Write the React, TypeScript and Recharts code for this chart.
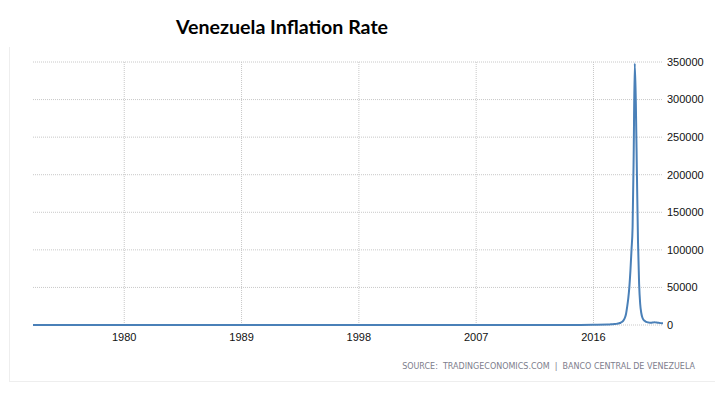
import React from 'react';
import { LineChart, Line, XAxis, YAxis, CartesianGrid, ReferenceLine } from 'recharts';

// Annual inflation rate (%), 1973-2016
const histYears = [
  1973, 1974, 1975, 1976, 1977, 1978, 1979, 1980, 1981, 1982, 1983, 1984, 1985, 1986, 1987,
  1988, 1989, 1990, 1991, 1992, 1993, 1994, 1995, 1996, 1997, 1998, 1999, 2000, 2001, 2002,
  2003, 2004, 2005, 2006, 2007, 2008, 2009, 2010, 2011, 2012, 2013, 2014, 2015, 2016,
];
const histValues = [
  4, 8, 10, 7, 8, 7, 12, 21, 16, 10, 6, 12, 11, 11, 28,
  30, 84, 40, 34, 31, 38, 61, 60, 100, 50, 36, 24, 16, 12, 22,
  31, 22, 16, 14, 19, 31, 27, 27, 28, 20, 41, 62, 121, 300,
];

// Monthly inflation rate (%), Jan..Dec
const values2017 = [600, 700, 800, 900, 1000, 1100, 1200, 1300, 1500, 1800, 2100, 2600];
const values2018 = [3000, 4000, 5000, 7000, 10000, 15000, 24000, 35000, 50000, 72000, 100000, 130060];
const values2019 = [225000, 348000, 295000, 200000, 110000, 55000, 28000, 16000, 10000, 7000, 5500, 4500];
const values2020 = [4000, 3500, 3200, 3000, 3000, 3200, 3400, 3600, 3500, 3300, 3100, 2960];
const values2021 = [2700, 2500, 2400, 2300];

const xTicks = [1980, 1989, 1998, 2007, 2016];
const yTicks = [0, 50000, 100000, 150000, 200000, 250000, 300000, 350000];

const title = 'Venezuela Inflation Rate';
const source = 'SOURCE:  TRADINGECONOMICS.COM  |  BANCO CENTRAL DE VENEZUELA';

const monthly: [number, number[]][] = [
  [2017, values2017],
  [2018, values2018],
  [2019, values2019],
  [2020, values2020],
  [2021, values2021],
];

const data: { t: number; v: number }[] = [
  ...histYears.map((y, i) => ({ t: y, v: histValues[i] })),
  ...monthly.flatMap(([y, vals]) => vals.map((v, m) => ({ t: y + (m + 1) / 12, v }))),
];

const xDomain: [number, number] = [1973, 2021.333];

export default function App() {
  return (
    <div style={{ position: 'absolute', left: 0, top: 0, width: 715, height: 399, background: '#fff' }}>
      <div
        style={{
          position: 'absolute',
          left: 9,
          top: 47,
          width: 706,
          height: 334,
          borderLeft: '1px solid #eeeeee',
          borderBottom: '1px solid #eeeeee',
        }}
      />
      <div
        style={{
          position: 'absolute',
          left: 176,
          top: 16,
          fontFamily: 'Lato, "Open Sans", sans-serif',
          fontWeight: 700,
          fontSize: 19.6,
          lineHeight: '22px',
          color: '#000',
          whiteSpace: 'nowrap',
        }}
      >
        {title}
      </div>
      <div
        style={{
          position: 'absolute',
          right: 20,
          top: 362,
          fontFamily: '"DejaVu Sans", sans-serif',
          fontSize: 8,
          lineHeight: '10px',
          letterSpacing: 0,
          color: '#7d7d8c',
          whiteSpace: 'pre',
        }}
      >
        {source}
      </div>
      <div style={{ position: 'absolute', left: 0, top: 0 }}>
        <LineChart
          width={715}
          height={399}
          data={data}
          margin={{ top: 62, right: 0, left: 33, bottom: 44 }}
        >
          <CartesianGrid stroke="#c8c8c8" strokeDasharray="1 1" vertical={false} />
          {xTicks.map((t) => (
            <ReferenceLine key={t} x={t} stroke="#c8c8c8" strokeDasharray="1 1" />
          ))}
          <XAxis
            dataKey="t"
            type="number"
            domain={xDomain}
            ticks={xTicks}
            axisLine={false}
            tickLine={false}
            height={30}
            interval={0}
            tick={{ fill: '#111', fontSize: 11, fontFamily: '"Liberation Sans", Arial, sans-serif' }}
          />
          <YAxis
            orientation="right"
            domain={[0, 350000]}
            ticks={yTicks}
            axisLine={false}
            tickLine={false}
            tickSize={0}
            tickMargin={4}
            width={52}
            interval={0}
            tick={{ fill: '#111', fontSize: 11, fontFamily: '"Liberation Sans", Arial, sans-serif', textAnchor: 'start' }}
          />
          <Line
            type="monotone"
            dataKey="v"
            stroke="#4a80b8"
            strokeWidth={2}
            dot={false}
            isAnimationActive={false}
          />
        </LineChart>
      </div>
    </div>
  );
}
